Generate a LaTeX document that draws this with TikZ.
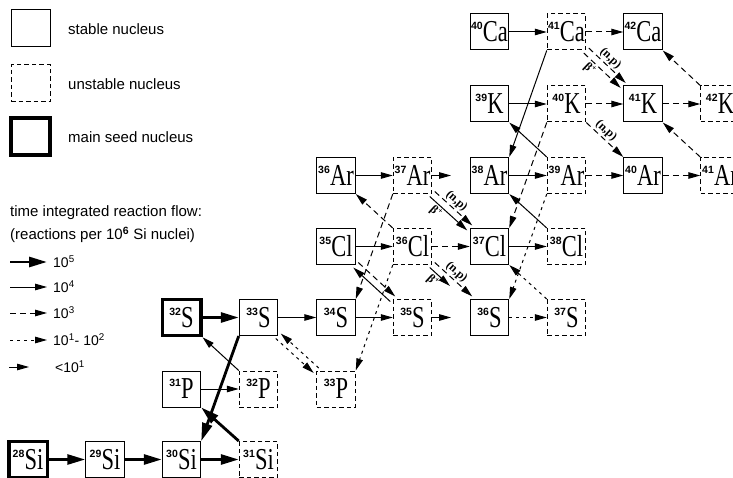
\documentclass[tikz,border=0pt]{standalone}
\usepackage{fontspec}
\usepackage{graphicx}
\setmainfont{Liberation Serif}
\setsansfont{Liberation Sans}
\usetikzlibrary{arrows.meta}
\newcommand{\nuc}[2]{\raisebox{12pt}{\fontsize{10.5}{10.5}\sffamily\bfseries #1}\kern0.2pt\scalebox{1}[1.35]{\fontsize{22.5}{22.5}\selectfont #2}}
\newcommand{\legf}{\fontsize{15}{16}\sffamily}
\newcommand{\numf}{\fontsize{14}{15}\sffamily}
\newcommand{\bplus}{β\textsuperscript{+}}
\begin{document}
\begin{tikzpicture}[x=1pt,y=-1pt,
  stable/.style={draw, line width=1pt, minimum width=38.5pt, minimum height=36pt, inner sep=0pt},
  unstable/.style={stable, dash pattern=on 4.5pt off 3pt},
  seed/.style={stable, line width=3.5pt},
  fA/.style={line width=2.8pt, -{Triangle[length=18pt,width=10pt]}},
  fB/.style={line width=1pt, -{Triangle[length=12pt,width=6.5pt]}},
  fC/.style={fB, dash pattern=on 6pt off 4pt},
  fD/.style={fB, dash pattern=on 3pt off 4pt},
  lab/.style={font=\fontsize{12}{12}\selectfont\bfseries, inner sep=1.5pt, sloped},
  legtext/.style={anchor=west, inner sep=0pt, font=\legf},
  numtext/.style={anchor=west, inner sep=0pt, font=\numf}]
\useasboundingbox (0,0) rectangle (733,478);
\clip (0,0) rectangle (733,478);

% legend
\node[stable, minimum width=39pt, minimum height=37pt] (Lst) at (30.5,28.5) {};
\node[legtext] (Lstt) at (68,29) {stable nucleus};
\node[unstable, minimum width=39pt, minimum height=37pt] (Lun) at (30.5,83.5) {};
\node[legtext] (Lunt) at (68,84) {unstable nucleus};
\node[seed, minimum width=39pt, minimum height=37pt] (Lse) at (30.5,136.5) {};
\node[legtext] (Lset) at (68,137) {main seed nucleus};
\node[legtext] (Lt1) at (10,213) {time integrated reaction flow:};
\node[legtext] (Lt2) at (10,235) {(reactions per 10\textsuperscript{\bfseries 6} Si nuclei)};
\coordinate (L5a) at (10,262); \coordinate (L5b) at (47,262);
\coordinate (L4a) at (10,287); \coordinate (L4b) at (47,287);
\coordinate (L3a) at (10,313); \coordinate (L3b) at (47,313);
\coordinate (L2a) at (10,340); \coordinate (L2b) at (47,340);
\coordinate (L1a) at (9,367); \coordinate (L1b) at (29,367);
\draw[fA] (L5a) -- (L5b);
\draw[fB] (L4a) -- (L4b);
\draw[fC] (L3a) -- (L3b);
\draw[fD] (L2a) -- (L2b);
\draw[fB] (L1a) -- (L1b);
\node[numtext] (L5t) at (53,262) {10\textsuperscript{5}};
\node[numtext] (L4t) at (53,287) {10\textsuperscript{4}};
\node[numtext] (L3t) at (53,313) {10\textsuperscript{3}};
\node[numtext] (L2t) at (53,340) {10\textsuperscript{1}- 10\textsuperscript{2}};
\node[numtext] (L1t) at (55,367) {<10\textsuperscript{1}};

% nuclei
\node[seed]     (Si28) at (28,459.5)    {\nuc{28}{Si}};
\node[stable]   (Si29) at (105,459.5)   {\nuc{29}{Si}};
\node[stable]   (Si30) at (181.5,459.5) {\nuc{30}{Si}};
\node[unstable] (Si31) at (258.5,459.5) {\nuc{31}{Si}};
\node[stable]   (P31) at (181.5,389) {\nuc{31}{P}};
\node[unstable] (P32) at (258.5,389) {\nuc{32}{P}};
\node[unstable] (P33) at (336,389)   {\nuc{33}{P}};
\node[seed]     (S32) at (181.5,317.5) {\nuc{32}{S}};
\node[stable]   (S33) at (258.5,317.5) {\nuc{33}{S}};
\node[stable]   (S34) at (336,317.5)   {\nuc{34}{S}};
\node[unstable] (S35) at (412.5,317.5) {\nuc{35}{S}};
\node[stable]   (S36) at (489.5,317.5) {\nuc{36}{S}};
\node[unstable] (S37) at (566.5,317.5) {\nuc{37}{S}};
\node[stable]   (Cl35) at (336,246.5)   {\nuc{35}{Cl}};
\node[unstable] (Cl36) at (412.5,246.5) {\nuc{36}{Cl}};
\node[stable]   (Cl37) at (489.5,246.5) {\nuc{37}{Cl}};
\node[unstable] (Cl38) at (566.5,246.5) {\nuc{38}{Cl}};
\node[stable]   (Ar36) at (336,175.5)   {\nuc{36}{Ar}};
\node[unstable] (Ar37) at (412.5,175.5) {\nuc{37}{Ar}};
\node[stable]   (Ar38) at (489.5,175.5) {\nuc{38}{Ar}};
\node[unstable] (Ar39) at (566.5,175.5) {\nuc{39}{Ar}};
\node[stable]   (Ar40) at (643,175.5)   {\nuc{40}{Ar}};
\node[unstable] (Ar41) at (720,175.5)   {\nuc{41}{Ar}};
\node[stable]   (K39) at (489.5,104) {\nuc{39}{K}};
\node[unstable] (K40) at (566.5,104) {\nuc{40}{K}};
\node[stable]   (K41) at (643,104)   {\nuc{41}{K}};
\node[unstable] (K42) at (720,104)   {\nuc{42}{K}};
\node[stable]   (Ca40) at (489.5,32) {\nuc{40}{Ca}};
\node[unstable] (Ca41) at (566.5,32) {\nuc{41}{Ca}};
\node[stable]   (Ca42) at (643,32)   {\nuc{42}{Ca}};

\coordinate (S35x) at (451,317.5);
\coordinate (Ar37x) at (451,175.5);
\coordinate (Cl36b) at (450,286);

% flows
\draw[fA] (Si28) -- (Si29);
\draw[fA] (Si29) -- (Si30);
\draw[fA] (Si30) -- (Si31);
\draw[fA] (Si31.north west) -- (P31.south east);
\draw[fB] (P31) -- (P32);
\draw[fB] (P32.north west) -- (S32.south east);
\draw[fA] (S32) -- (S33);
\draw[fA] (S33.south west) -- (Si30.north east);
\draw[fB] (S33) -- (S34);
\draw[fD] ([shift={(-2.5,2.5)}]S33.south east) -- ([shift={(-2.5,2.5)}]P33.north west);
\draw[fD] ([shift={(2.5,-2.5)}]P33.north west) -- ([shift={(2.5,-2.5)}]S33.south east);
\draw[fB] (S34) -- (S35);
\draw[fB] (S35) -- (S35x);
\draw[fD] (S36) -- (S37);
\draw[fD] (S37.north west) -- (Cl37.south east);
\draw[fD] (Ar39.south west) -- (S36.north east);
\draw[fD] (Cl36.south west) -- (P33.north east);
\draw[fC] (Ar37.south west) -- (S34.north east);
\draw[fC] ([shift={(2.5,-2.5)}]Cl35.south east) -- ([shift={(2.5,-2.5)}]S35.north west);
\draw[fB] ([shift={(-2.5,2.5)}]S35.north west) -- ([shift={(-2.5,2.5)}]Cl35.south east);
\draw[fB] (Cl35) -- (Cl36);
\draw[fC] (Cl36) -- (Cl37);
\draw[fB] (Cl37) -- (Cl38);
\draw[fC] (Cl36.north west) -- (Ar36.south east);
\draw[fB] (Ar36) -- (Ar37);
\draw[fB] (Ar37) -- (Ar37x);
\draw[fC] ([shift={(2.5,-2.5)}]Ar37.south east) -- node[lab, above, pos=0.45] {(n,p)} ([shift={(2.5,-2.5)}]Cl37.north west);
\draw[fB] ([shift={(-2.5,2.5)}]Ar37.south east) -- node[lab, below, pos=0.3] {\bplus} ([shift={(-2.5,2.5)}]Cl37.north west);
\draw[fC] ([shift={(2.5,-2.5)}]Cl36.south east) -- node[lab, above, pos=0.45] {(n,p)} ([shift={(2.5,-2.5)}]S36.north west);
\draw[fB] ([shift={(-2.5,2.5)}]Cl36.south east) -- node[lab, below, pos=0.4] {\bplus} (Cl36b);
\draw[fB] (Ar38) -- (Ar39);
\draw[fC] (Ar39) -- (Ar40);
\draw[fC] (Ar40) -- (Ar41);
\draw[fB] (Cl38.north west) -- (Ar38.south east);
\draw[fC] (K40.south west) -- (Cl37.north east);
\draw[fB] (Ar39.north west) -- (K39.south east);
\draw[fB] (Ca41.south west) -- (Ar38.north east);
\draw[fB] (K39) -- (K40);
\draw[fC] (K40) -- (K41);
\draw[fC] (K41) -- (K42);
\draw[fC] (K40.south east) -- node[lab, above, pos=0.4] {(n,p)} (Ar40.north west);
\draw[fC] (Ar41.north west) -- (K41.south east);
\draw[fC] (K42.north west) -- (Ca42.south east);
\draw[fB] (Ca40) -- (Ca41);
\draw[fC] (Ca41) -- (Ca42);
\draw[fC] ([shift={(2.5,-2.5)}]Ca41.south east) -- node[lab, above, pos=0.45] {(n,p)} ([shift={(2.5,-2.5)}]K41.north west);
\draw[fC] ([shift={(-2.5,2.5)}]Ca41.south east) -- node[lab, below, pos=0.3] {\bplus} ([shift={(-2.5,2.5)}]K41.north west);
\end{tikzpicture}
\end{document}
